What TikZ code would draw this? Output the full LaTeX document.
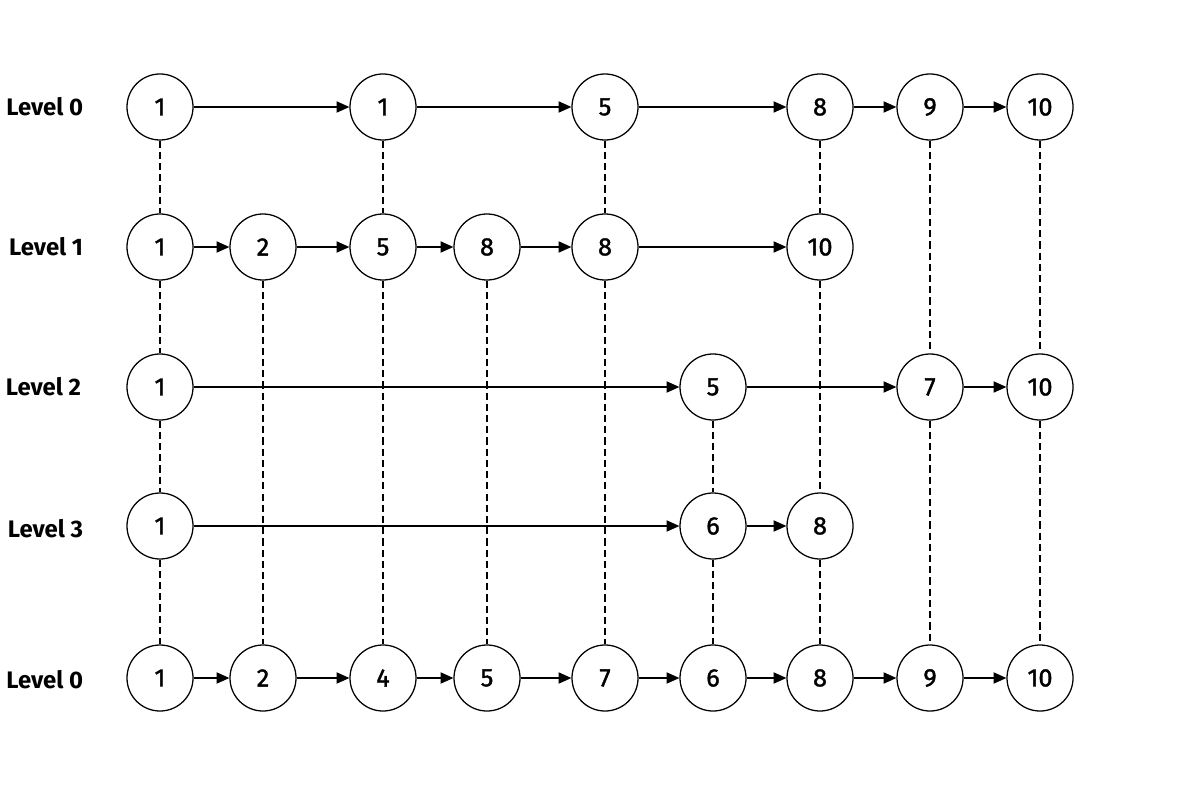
\documentclass[tikz,border=0pt]{standalone}
\usepackage{fontspec}
\setmainfont{Fira Sans}
\newfontfamily\keyfont[FakeBold=1.4]{Fira Sans}
\usetikzlibrary{arrows.meta}

\begin{document}
\begin{tikzpicture}[x=0.025cm, y=-0.025cm,
  key/.style={draw, circle, minimum size=1.65cm, inner sep=0pt, line width=0.9pt, font=\keyfont\fontsize{18}{21}\selectfont},
  lvl/.style={anchor=east, font=\fontsize{17}{20}\selectfont\bfseries},
  arr/.style={-{Triangle[length=3.2mm,width=2.8mm]}, line width=0.9pt},
  link/.style={dash pattern=on 1.8mm off 1mm, line width=0.8pt}]
  \useasboundingbox (0,0) rectangle (1200,800);
  % level labels
  \node[lvl] (la) at (88,107) {Level 0};
  \node[lvl] (lb) at (88,247) {Level 1};
  \node[lvl] (lc) at (86,387) {Level 2};
  \node[lvl] (ld) at (88,529) {Level 3};
  \node[lvl] (le) at (88,680) {Level 0};
  % keys per level (value/column/x)
  \foreach \v/\c/\x in {1/1/160,1/3/383,5/5/605,8/7/820,9/8/930,10/9/1040}
    \node[key] (a\c) at (\x,107) {\v};
  \foreach \v/\c/\x in {1/1/160,2/2/263,5/3/383,8/4/487,8/5/605,10/7/820}
    \node[key] (b\c) at (\x,247) {\v};
  \foreach \v/\c/\x in {1/1/160,5/6/713,7/8/930,10/9/1040}
    \node[key] (c\c) at (\x,387) {\v};
  \foreach \v/\c/\x in {1/1/160,6/6/713,8/7/820}
    \node[key] (d\c) at (\x,526) {\v};
  \foreach \v/\c/\x in {1/1/160,2/2/263,4/3/383,5/4/487,7/5/605,6/6/713,8/7/820,9/8/930,10/9/1040}
    \node[key] (e\c) at (\x,678) {\v};
  % vertical links
  \foreach \p/\q in {a1/b1,b1/c1,c1/d1,d1/e1,b2/e2,a3/b3,b3/e3,b4/e4,a5/b5,b5/e5,
                     c6/d6,d6/e6,a7/b7,b7/d7,d7/e7,a8/c8,c8/e8,a9/c9,c9/e9}
    \draw[link] (\p) -- (\q);
  % forward pointers
  \foreach \p/\q in {a1/a3,a3/a5,a5/a7,a7/a8,a8/a9,
                     b1/b2,b2/b3,b3/b4,b4/b5,b5/b7,
                     c1/c6,c6/c8,c8/c9,
                     d1/d6,d6/d7,
                     e1/e2,e2/e3,e3/e4,e4/e5,e5/e6,e6/e7,e7/e8,e8/e9}
    \draw[arr] (\p) -- (\q);
\end{tikzpicture}
\end{document}
